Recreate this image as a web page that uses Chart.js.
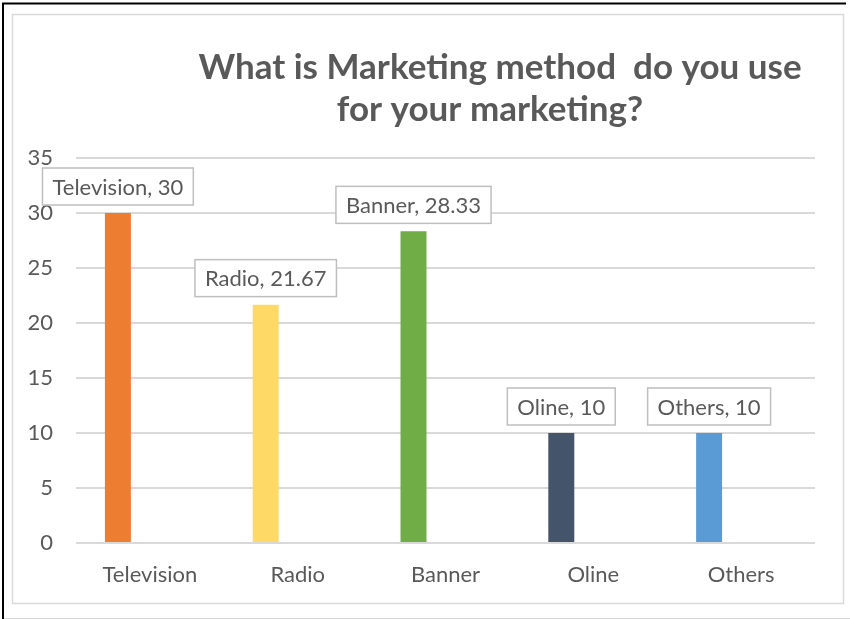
<!DOCTYPE html>
<html>
<head>
<meta charset="utf-8">
<script src="https://cdn.jsdelivr.net/npm/chart.js@4.4.0/dist/chart.umd.min.js"></script>
<style>
  html, body { margin: 0; padding: 0; background: #fff; }
  canvas { display: block; }
</style>
</head>
<body>
<canvas id="chart" width="850" height="619"></canvas>
<script>
// chart data
const categories = ['Television', 'Radio', 'Banner', 'Oline', 'Others'];
const shares = [30, 21.67, 28.33, 10, 10];
const barColors = ['#ED7D31', '#FFD966', '#70AD47', '#44546A', '#5B9BD5'];
const yTicks = [0, 5, 10, 15, 20, 25, 30, 35];
const titleLines = ['What is Marketing method  do you use', 'for your marketing?'];

const FONT = 'Lato, "Liberation Sans", sans-serif';
const GREY_TEXT = '#595959';

// frame + title drawn by hand, Excel style
const framePlugin = {
  id: 'frame',
  beforeDraw(chart) {
    const c = chart.ctx;
    c.save();
    c.fillStyle = '#fff';
    c.fillRect(0, 0, chart.width, chart.height);
    c.strokeStyle = '#D9D9D9';
    c.lineWidth = 1.5;
    c.strokeRect(12.5, 14.5, 831, 589);
    c.strokeStyle = '#000';
    c.lineWidth = 2;
    c.beginPath();
    c.moveTo(3, 619); c.lineTo(3, 3.5); c.lineTo(846, 3.5);
    c.stroke();
    c.strokeStyle = '#D9D9D9';
    c.lineWidth = 1;
    c.beginPath();
    c.moveTo(4, 618.5); c.lineTo(850, 618.5);
    c.stroke();
    c.restore();
  },
  afterDraw(chart) {
    const c = chart.ctx;
    c.save();
    c.fillStyle = GREY_TEXT;
    c.font = 'bold 35px ' + FONT;
    c.textAlign = 'center';
    c.textBaseline = 'alphabetic';
    c.fillText(titleLines[0], 500, 79);
    c.fillText(titleLines[1], 490, 121);
    c.restore();
  }
};

// boxed "Category, value" labels above bars
const boxLabels = {
  id: 'boxLabels',
  afterDatasetsDraw(chart) {
    const c = chart.ctx;
    const meta = chart.getDatasetMeta(0);
    c.save();
    c.font = '22px ' + FONT;
    c.textAlign = 'center';
    c.textBaseline = 'middle';
    meta.data.forEach((bar, i) => {
      const txt = categories[i] + ', ' + shares[i];
      const w = c.measureText(txt).width + 20;
      const h = 37;
      const bottom = bar.y - 8;
      const x0 = bar.x - w / 2;
      c.fillStyle = '#fff';
      c.fillRect(x0, bottom - h, w, h);
      c.strokeStyle = '#BFBFBF';
      c.lineWidth = 1.5;
      c.strokeRect(x0, bottom - h, w, h);
      c.fillStyle = GREY_TEXT;
      c.fillText(txt, bar.x, bottom - h / 2 + 1);
    });
    c.restore();
  }
};

new Chart(document.getElementById('chart'), {
  type: 'bar',
  data: {
    labels: categories,
    datasets: [
      { data: shares, backgroundColor: barColors, categoryPercentage: 0.866, barPercentage: 0.406 },
      { data: categories.map(() => null), categoryPercentage: 0.866, barPercentage: 0.406 }
    ]
  },
  options: {
    responsive: false,
    devicePixelRatio: 1,
    animation: false,
    layout: { padding: { top: 158, right: 35, bottom: 26, left: 0 } },
    plugins: { legend: { display: false }, tooltip: { enabled: false }, title: { display: false } },
    scales: {
      x: {
        grid: { display: false, drawTicks: false },
        border: { display: false },
        ticks: { color: GREY_TEXT, font: { family: FONT, size: 22 }, padding: 19, maxRotation: 0 },
        afterFit(s) { s.height = 50; }
      },
      y: {
        min: 0, max: 35,
        afterBuildTicks(s) { s.ticks = yTicks.map(v => ({ value: v })); },
        grid: { color: '#D9D9D9', lineWidth: 2, drawTicks: false },
        border: { display: false },
        ticks: { color: GREY_TEXT, font: { family: FONT, size: 22 }, padding: 23 },
        afterFit(s) { s.width = 76; }
      }
    }
  },
  plugins: [framePlugin, boxLabels]
});
</script>
</body>
</html>
